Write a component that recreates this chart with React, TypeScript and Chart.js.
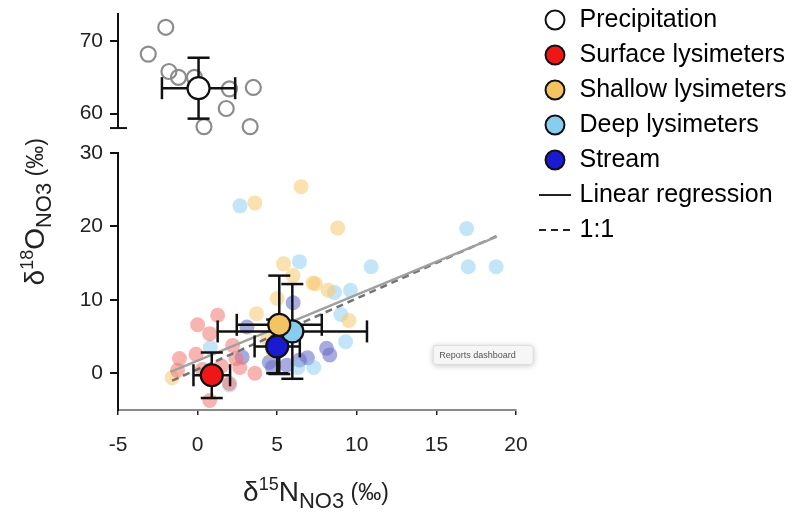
import React, { useEffect, useRef } from 'react';
import { Chart, registerables } from 'chart.js';

Chart.register(...registerables);

const FAMILY = '"Liberation Sans", Arial, Helvetica, sans-serif';

// ---- axes ----
const X_TICKS = [-5, 0, 5, 10, 15, 20];
const Y_TICKS = [0, 10, 20, 30];
const Y_TOP_TICKS = [60, 70];
const X_MIN = -5, X_MAX = 20;
const Y_MIN = -5, Y_MAX = 30;
const Y_TOP_MIN = 58, Y_TOP_MAX = 73.8;

// ---- legend ----
const GROUP_LABELS = ['Precipitation', 'Surface lysimeters', 'Shallow lysimeters', 'Deep lysimeters', 'Stream'];
const LINE_LABELS = ['Linear regression', '1:1'];

// ---- individual samples (δ15N, δ18O) ----
const PRECIP_X = [-2.0, -3.1, -1.8, -1.2, -0.2, 2.0, 3.5, 1.8, 0.4, 3.3];
const PRECIP_Y = [71.9, 68.2, 65.8, 65.0, 65.0, 63.4, 63.6, 60.7, 58.2, 58.2];

const SURFACE_X = [1.26, 0.0, 0.76, -0.1, -1.14, 2.4, 2.65, 3.6, -1.26, 2.0, 0.76, 2.2, 1.5, 0.3];
const SURFACE_Y = [7.9, 6.6, 5.4, 2.6, 2.0, 2.0, 0.8, 0.0, 0.4, -1.4, -3.7, 3.8, 1.0, 0.5];

const SHALLOW_X = [6.5, 3.6, 8.8, 5.4, 6.0, 7.4, 8.2, 9.5, 5.0, 4.4, 4.7, -1.6, 3.7, 7.25];
const SHALLOW_Y = [25.4, 23.2, 19.8, 14.9, 13.3, 12.2, 11.3, 7.2, 10.2, 4.7, 3.1, -0.6, 8.1, 12.3];

const DEEP_X = [2.66, 6.4, 10.9, 16.9, 17.0, 18.75, 9.6, 8.6, 9.0, 9.3, 6.3, 7.3, 2.0, 0.8];
const DEEP_Y = [22.8, 15.2, 14.5, 19.7, 14.5, 14.5, 11.3, 11.0, 8.0, 4.3, 0.8, 0.8, -1.6, 3.5];

const STREAM_X = [6.0, 8.1, 8.3, 6.9, 4.5, 2.8, 3.1, 4.7, 5.6, 6.4];
const STREAM_Y = [9.6, 3.4, 2.5, 2.1, 1.5, 2.2, 6.3, 0.8, 1.1, 1.8];

// ---- group means and error bars (Precipitation, Surface, Shallow, Deep, Stream) ----
const MEAN_X = [0.06, 0.89, 5.13, 5.95, 5.0];
const MEAN_Y = [63.5, -0.27, 6.6, 5.7, 3.66];
const ERR_X = [2.3, 1.15, 2.67, 4.69, 1.42];
const ERR_Y = [4.2, 3.1, 6.7, 6.45, 3.66];

// ---- lines ----
const REG_X = [-1.7, 18.8];
const REG_Y = [0.2, 18.6];
const ONE_X = [-1.6, 18.8];
const ONE_Y = [-1.0, 18.7];

// ---- styles ----
const MEAN_COLORS = ['#ffffff', '#ee1616', '#f5c462', '#88cdf0', '#1a1ad0'];
const SAMPLE_COLORS = ['rgba(0,0,0,0)', 'rgba(240,118,112,0.55)', 'rgba(248,200,110,0.55)', 'rgba(140,205,240,0.52)', 'rgba(105,110,200,0.58)'];
const INK = '#111111';

const pts = (xs: number[], ys: number[]) => xs.map((x, i) => ({ x, y: ys[i] }));

function makeLineImage(dash: number[]) {
  const c = document.createElement('canvas');
  c.width = 32;
  c.height = 4;
  const g = c.getContext('2d')!;
  g.strokeStyle = '#222';
  g.lineWidth = 2;
  g.setLineDash(dash);
  g.beginPath();
  g.moveTo(0, 2);
  g.lineTo(32, 2);
  g.stroke();
  return c;
}

type Run = { t: string; s: number; dy: number };
const X_TITLE: Run[] = [
  { t: 'δ', s: 28, dy: 0 },
  { t: '15', s: 18, dy: -11 },
  { t: 'N', s: 28, dy: 0 },
  { t: 'NO3', s: 22, dy: 7 },
  { t: ' (‰)', s: 23, dy: -1 },
];
const Y_TITLE: Run[] = [
  { t: 'δ', s: 28, dy: 0 },
  { t: '18', s: 18, dy: -11 },
  { t: 'O', s: 28, dy: 0 },
  { t: 'NO3', s: 22, dy: 7 },
  { t: ' (‰)', s: 23, dy: -1 },
];

function drawRuns(ctx: CanvasRenderingContext2D, runs: Run[], x: number, y: number, vertical: boolean) {
  const widths = runs.map((r) => {
    ctx.font = `${r.s}px ${FAMILY}`;
    return ctx.measureText(r.t).width;
  });
  const total = widths.reduce((a, b) => a + b, 0);
  ctx.save();
  ctx.translate(x, y);
  if (vertical) ctx.rotate(-Math.PI / 2);
  ctx.fillStyle = '#222';
  ctx.textBaseline = 'alphabetic';
  ctx.textAlign = 'left';
  let cx = -total / 2;
  runs.forEach((r, i) => {
    ctx.font = `${r.s}px ${FAMILY}`;
    ctx.fillText(r.t, cx, r.dy);
    cx += widths[i];
  });
  ctx.restore();
}

const LEGEND_FONT = 25;
const LEGEND_PAD = 10;

const extrasPlugin = {
  id: 'extras',
  afterLayout(chart: any) {
    const lg = chart.legend;
    if (!lg) return;
    const left = chart.chartArea.right + 17;
    const top = 20 - LEGEND_FONT / 2 - LEGEND_PAD;
    lg.left = left;
    lg.right = left + lg.width;
    lg.top = top;
    lg.height = 420;
    lg.bottom = top + 420;
  },
  afterDraw(chart: any) {
    const ctx: CanvasRenderingContext2D = chart.ctx;
    const area = chart.chartArea;
    // axis break cap
    const st = chart.scales.yTop;
    ctx.save();
    ctx.strokeStyle = INK;
    ctx.lineWidth = 2;
    ctx.beginPath();
    ctx.moveTo(st.right - 8, st.bottom);
    ctx.lineTo(st.right + 9, st.bottom);
    ctx.stroke();
    ctx.restore();
    // axis titles
    drawRuns(ctx, X_TITLE, (area.left + area.right) / 2 - 1, 501, false);
    drawRuns(ctx, Y_TITLE, 44, (area.top + area.bottom) / 2, true);
    // small overlay label
    const sx = chart.scales.x.getPixelForValue(14.8);
    const sy = chart.scales.y.getPixelForValue(3.8);
    ctx.save();
    ctx.shadowColor = 'rgba(0,0,0,0.25)';
    ctx.shadowBlur = 6;
    ctx.shadowOffsetY = 1;
    ctx.fillStyle = '#f6f6f6';
    ctx.beginPath();
    (ctx as any).roundRect ? (ctx as any).roundRect(sx, sy, 100, 19, 3) : ctx.rect(sx, sy, 100, 19);
    ctx.fill();
    ctx.shadowColor = 'rgba(0,0,0,0)';
    ctx.strokeStyle = '#dddddd';
    ctx.lineWidth = 1;
    ctx.stroke();
    ctx.fillStyle = '#555';
    ctx.font = `9px ${FAMILY}`;
    ctx.textBaseline = 'middle';
    ctx.fillText('Reports dashboard', sx + 6, sy + 10);
    ctx.restore();
  },
};

export default function App() {
  const ref = useRef<HTMLCanvasElement>(null);

  useEffect(() => {
    const canvas = ref.current!;
    const lineSolid = makeLineImage([]);
    const lineDash = makeLineImage([7, 5]);

    const axisForGroup = (i: number) => (i === 0 ? 'yTop' : 'y');

    const meanSets = MEAN_X.map((mx, i) => ({
      label: GROUP_LABELS[i] + ' mean',
      data: [{ x: mx, y: MEAN_Y[i] }],
      yAxisID: axisForGroup(i),
      backgroundColor: MEAN_COLORS[i],
      borderColor: INK,
      borderWidth: 2.2,
      pointRadius: 11,
      clip: false as any,
    }));

    const errSets: any[] = [];
    MEAN_X.forEach((mx, i) => {
      const my = MEAN_Y[i];
      errSets.push({
        label: 'xerr' + i,
        data: [{ x: mx - ERR_X[i], y: my }, { x: mx + ERR_X[i], y: my }],
        yAxisID: axisForGroup(i),
        showLine: true,
        borderColor: INK,
        borderWidth: 2.5,
        pointStyle: 'line',
        pointRotation: 90,
        pointRadius: 11,
        pointBorderColor: INK,
        pointBorderWidth: 2.5,
        clip: false,
      });
      errSets.push({
        label: 'yerr' + i,
        data: [{ x: mx, y: my - ERR_Y[i] }, { x: mx, y: my + ERR_Y[i] }],
        yAxisID: axisForGroup(i),
        showLine: true,
        borderColor: INK,
        borderWidth: 2.5,
        pointStyle: 'line',
        pointRotation: 0,
        pointRadius: 11,
        pointBorderColor: INK,
        pointBorderWidth: 2.5,
        clip: false,
      });
    });

    const lineSets = [
      {
        label: 'Linear regression',
        data: pts(REG_X, REG_Y),
        yAxisID: 'y',
        showLine: true,
        borderColor: '#a0a0a0',
        borderWidth: 2.5,
        pointRadius: 0,
      },
      {
        label: '1:1',
        data: pts(ONE_X, ONE_Y),
        yAxisID: 'y',
        showLine: true,
        borderColor: '#747474',
        borderWidth: 2.5,
        borderDash: [7, 5],
        pointRadius: 0,
      },
    ];

    const sampleSets = [
      { xs: PRECIP_X, ys: PRECIP_Y },
      { xs: SURFACE_X, ys: SURFACE_Y },
      { xs: SHALLOW_X, ys: SHALLOW_Y },
      { xs: DEEP_X, ys: DEEP_Y },
      { xs: STREAM_X, ys: STREAM_Y },
    ].map((g, i) => ({
      label: GROUP_LABELS[i] + ' samples',
      data: pts(g.xs, g.ys),
      yAxisID: axisForGroup(i),
      backgroundColor: SAMPLE_COLORS[i],
      borderColor: i === 0 ? '#8c8c8c' : 'rgba(0,0,0,0)',
      borderWidth: i === 0 ? 2.2 : 0,
      pointRadius: 7.5,
      clip: false,
    }));

    const yCommon = (w: number) => ({
      type: 'linear',
      position: 'left',
      stack: 'v',
      afterFit: (s: any) => {
        s.width = 118;
        s.paddingTop = 0;
        s.paddingBottom = 0;
      },
      border: { display: true, color: INK, width: 2 },
      grid: { drawOnChartArea: false, drawTicks: true, tickLength: 8, color: INK, lineWidth: 2 },
      ticks: { font: { size: 21, family: FAMILY }, color: '#222', padding: 7 },
      weight: w,
    });

    const chart = new Chart(canvas, {
      type: 'scatter',
      data: {
        datasets: [...meanSets, ...errSets, ...lineSets, ...sampleSets] as any,
      },
      options: {
        responsive: false,
        animation: false,
        devicePixelRatio: 1,
        events: [],
        layout: { padding: { top: 12, right: 296, bottom: 0, left: 0 } },
        scales: {
          x: {
            type: 'linear',
            position: 'bottom',
            min: X_MIN,
            max: X_MAX,
            afterBuildTicks: (s: any) => {
              s.ticks = X_TICKS.map((v) => ({ value: v }));
            },
            afterFit: (s: any) => {
              s.height = 103;
              s.paddingLeft = 0;
              s.paddingRight = 0;
            },
            border: { display: true, color: '#8a8a8a', width: 2 },
            grid: { drawOnChartArea: false, drawTicks: true, tickLength: 5, color: '#222', lineWidth: 1.5 },
            ticks: { font: { size: 21, family: FAMILY }, color: '#222', padding: 18, maxRotation: 0, autoSkip: false },
          },
          y: {
            ...yCommon(1),
            stackWeight: 258,
            min: Y_MIN,
            max: Y_MAX,
            afterBuildTicks: (s: any) => {
              s.ticks = Y_TICKS.map((v) => ({ value: v }));
            },
          },
          yGap: {
            ...yCommon(2),
            stackWeight: 25,
            min: 0,
            max: 1,
            border: { display: false },
            grid: { display: false },
            ticks: { display: false },
          },
          yTop: {
            ...yCommon(3),
            stackWeight: 115,
            min: Y_TOP_MIN,
            max: Y_TOP_MAX,
            afterBuildTicks: (s: any) => {
              s.ticks = Y_TOP_TICKS.map((v) => ({ value: v }));
            },
          },
        } as any,
        plugins: {
          tooltip: { enabled: false },
          title: { display: false },
          legend: {
            display: true,
            position: 'chartArea' as any,
            align: 'start',
            labels: {
              usePointStyle: true,
              boxWidth: 24,
              boxHeight: 13.4,
              padding: LEGEND_PAD,
              color: '#1a1a1a',
              font: { size: LEGEND_FONT, family: FAMILY },
              generateLabels: () => [
                ...GROUP_LABELS.map((t, i) => ({
                  text: t,
                  fillStyle: MEAN_COLORS[i],
                  strokeStyle: INK,
                  lineWidth: 2,
                  pointStyle: 'circle',
                  hidden: false,
                  datasetIndex: i,
                })),
                {
                  text: LINE_LABELS[0],
                  fillStyle: '#222',
                  strokeStyle: '#222',
                  lineWidth: 2,
                  pointStyle: lineSolid,
                  hidden: false,
                  datasetIndex: 15,
                },
                {
                  text: LINE_LABELS[1],
                  fillStyle: '#222',
                  strokeStyle: '#222',
                  lineWidth: 2,
                  pointStyle: lineDash,
                  hidden: false,
                  datasetIndex: 16,
                },
              ],
            },
          },
        },
      } as any,
      plugins: [extrasPlugin],
    });

    return () => chart.destroy();
  }, []);

  return (
    <div style={{ position: 'fixed', left: 0, top: 0, width: 812, height: 513, background: '#ffffff' }}>
      <canvas ref={ref} width={812} height={513} style={{ display: 'block', width: 812, height: 513 }} />
    </div>
  );
}
